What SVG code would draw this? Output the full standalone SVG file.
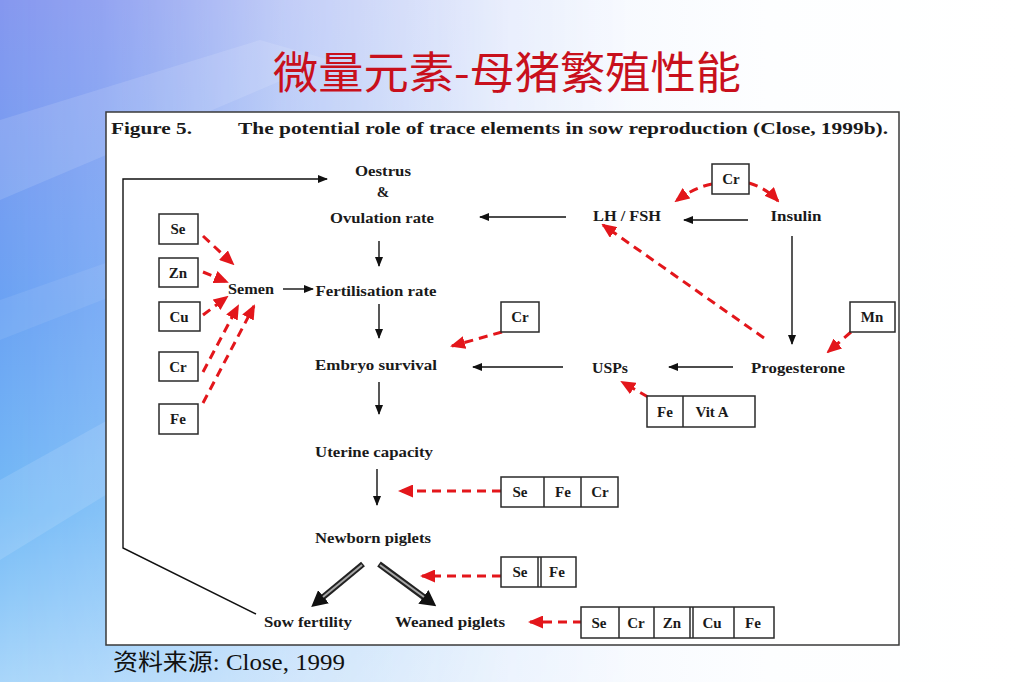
<svg xmlns="http://www.w3.org/2000/svg" width="1023" height="682" viewBox="0 0 1023 682">
<defs>
<linearGradient id="bgH" x1="0" y1="0" x2="1" y2="0">
<stop offset="0" stop-color="#dfe9fb"/>
<stop offset="0.5" stop-color="#f3f7fe"/>
<stop offset="0.75" stop-color="#fdfeff"/>
<stop offset="1" stop-color="#ffffff"/>
</linearGradient>
<linearGradient id="bgV" x1="0" y1="0" x2="0" y2="1">
<stop offset="0" stop-color="#8597ef"/>
<stop offset="0.45" stop-color="#6aa2f3"/>
<stop offset="0.75" stop-color="#74baf6"/>
<stop offset="1" stop-color="#a9d6fa"/>
</linearGradient>
<linearGradient id="fadeH" x1="0" y1="0" x2="1" y2="0">
<stop offset="0" stop-color="#fff" stop-opacity="1"/>
<stop offset="0.1" stop-color="#fff" stop-opacity="0.85"/>
<stop offset="0.28" stop-color="#fff" stop-opacity="0.4"/>
<stop offset="0.5" stop-color="#fff" stop-opacity="0.08"/>
<stop offset="0.62" stop-color="#fff" stop-opacity="0"/>
</linearGradient>
<mask id="leftMask"><rect x="0" y="0" width="1023" height="682" fill="url(#fadeH)"/></mask>
<marker id="ba" markerUnits="userSpaceOnUse" markerWidth="10" markerHeight="8" refX="9" refY="4" orient="auto">
<path d="M0,0 L10,4 L0,8 z" fill="#111"/>
</marker>
<marker id="ra" markerUnits="userSpaceOnUse" markerWidth="15" markerHeight="13" refX="13" refY="6.5" orient="auto">
<path d="M0,0 L15,6.5 L0,13 z" fill="#e3161b"/>
</marker>
<marker id="da" markerUnits="userSpaceOnUse" markerWidth="16" markerHeight="17" refX="2" refY="8.5" orient="auto">
<path d="M0,0 L16,8.5 L0,17 z" fill="#111"/>
</marker>
<style>
.lbl{font-family:'Liberation Serif',Tinos,'Times New Roman','DejaVu Serif',serif;font-weight:700;font-size:15px;fill:#1a1a1a;text-anchor:middle}
.hdr{font-family:'Liberation Serif',Tinos,'Times New Roman','DejaVu Serif',serif;font-weight:700;font-size:17px;fill:#1a1a1a}
.box{fill:#fff;stroke:#2a2a2a;stroke-width:1.5}
.div{stroke:#2a2a2a;stroke-width:1.5}
.blk{fill:none;stroke:#111;stroke-width:1.4;marker-end:url(#ba)}
.red{fill:none;stroke:#e3161b;stroke-width:3;stroke-dasharray:9 6;marker-end:url(#ra)}
.dbo{fill:none;stroke:#222;stroke-width:6;marker-end:url(#da)}
.dbi{fill:none;stroke:#a8a8a8;stroke-width:2}
</style>
</defs>

<g id="background">
<rect x="0" y="0" width="1023" height="682" fill="url(#bgH)"/>
<rect x="0" y="0" width="1023" height="682" fill="url(#bgV)" mask="url(#leftMask)"/>
<polygon points="0,120 260,40 330,60 0,200" fill="#ffffff" opacity="0.12"/>
<polygon points="0,480 180,380 260,400 0,560" fill="#ffffff" opacity="0.12"/>
<polygon points="0,300 200,230 230,250 0,340" fill="#ffffff" opacity="0.08"/>
</g>

<text id="title" x="507" y="89" font-family="'Noto Sans CJK SC','Noto Sans CJK JP',sans-serif" font-size="44" fill="#c8101c" text-anchor="middle" textLength="468" lengthAdjust="spacingAndGlyphs">微量元素-母猪繁殖性能</text>

<rect id="panel" x="106" y="112" width="793" height="533" fill="#ffffff" stroke="#3a3a3a" stroke-width="1.5"/>

<text class="hdr" x="111" y="134" textLength="81" lengthAdjust="spacingAndGlyphs">Figure 5.</text>
<text class="hdr" x="238" y="134" textLength="650" lengthAdjust="spacingAndGlyphs">The potential role of trace elements in sow reproduction (Close, 1999b).</text>

<g id="connectors">
<path class="blk" d="M379,241 L379,266"/>
<path class="blk" d="M379,304 L379,338"/>
<path class="blk" d="M379,382 L379,414"/>
<path class="blk" d="M377,469 L377,505"/>
<path class="blk" d="M283,289 L313,289"/>
<path class="blk" d="M566,217 L480,217"/>
<path class="blk" d="M748,220 L684,220"/>
<path class="blk" d="M792,236 L792,344"/>
<path class="blk" d="M733,367 L669,367"/>
<path class="blk" d="M563,367 L473,367"/>
<path class="blk" d="M256,614 L123,548 L123,179 L327,179"/>
<path class="dbo" d="M363,564 L322,598"/>
<path class="dbi" d="M362,565 L323,597"/>
<path class="dbo" d="M379,564 L425,598"/>
<path class="dbi" d="M380,565 L424,597"/>
<path class="red" d="M203,236 L233,264"/>
<path class="red" d="M203,272 L227,282"/>
<path class="red" d="M203,315 L227,297"/>
<path class="red" d="M203,372 L238,306"/>
<path class="red" d="M203,403 L254,306"/>
<path class="red" d="M712,184 Q695,187 676,201"/>
<path class="red" d="M749,183 Q766,188 778,201"/>
<path class="red" d="M764,338 L603,225"/>
<path class="red" d="M851,332 L828,352"/>
<path class="red" d="M502,332 L452,346"/>
<path class="red" d="M648,397 L622,382"/>
<path class="red" d="M501,491 L400,491"/>
<path class="red" d="M501,576 L422,576"/>
<path class="red" d="M582,622 L530,622"/>
</g>

<g id="node-oestrus">
<text class="lbl" x="383" y="176" textLength="56" lengthAdjust="spacingAndGlyphs">Oestrus</text>
<text class="lbl" x="383" y="197">&amp;</text>
<text class="lbl" x="382" y="223" textLength="104" lengthAdjust="spacingAndGlyphs">Ovulation rate</text>
</g>
<g id="node-semen"><text class="lbl" x="251" y="294" textLength="46" lengthAdjust="spacingAndGlyphs">Semen</text></g>
<g id="node-fertilisation"><text class="lbl" x="376" y="296" textLength="121" lengthAdjust="spacingAndGlyphs">Fertilisation rate</text></g>
<g id="node-embryo"><text class="lbl" x="376" y="370" textLength="122" lengthAdjust="spacingAndGlyphs">Embryo survival</text></g>
<g id="node-uterine"><text class="lbl" x="374" y="457" textLength="118" lengthAdjust="spacingAndGlyphs">Uterine capacity</text></g>
<g id="node-newborn"><text class="lbl" x="373" y="543" textLength="116" lengthAdjust="spacingAndGlyphs">Newborn piglets</text></g>
<g id="node-sow"><text class="lbl" x="308" y="627" textLength="88" lengthAdjust="spacingAndGlyphs">Sow fertility</text></g>
<g id="node-weaned"><text class="lbl" x="450" y="627" textLength="110" lengthAdjust="spacingAndGlyphs">Weaned piglets</text></g>
<g id="node-lhfsh"><text class="lbl" x="627" y="221" textLength="68" lengthAdjust="spacingAndGlyphs">LH / FSH</text></g>
<g id="node-insulin"><text class="lbl" x="796" y="221" textLength="51" lengthAdjust="spacingAndGlyphs">Insulin</text></g>
<g id="node-usps"><text class="lbl" x="610" y="373" textLength="36" lengthAdjust="spacingAndGlyphs">USPs</text></g>
<g id="node-progesterone"><text class="lbl" x="798" y="373" textLength="94" lengthAdjust="spacingAndGlyphs">Progesterone</text></g>

<g id="box-se"><rect class="box" x="159" y="214" width="39" height="30"/><text class="lbl" x="178" y="234">Se</text></g>
<g id="box-zn"><rect class="box" x="159" y="258" width="39" height="29"/><text class="lbl" x="178" y="278">Zn</text></g>
<g id="box-cu"><rect class="box" x="159" y="302" width="41" height="29"/><text class="lbl" x="179" y="322">Cu</text></g>
<g id="box-cr-left"><rect class="box" x="159" y="352" width="39" height="29"/><text class="lbl" x="178" y="372">Cr</text></g>
<g id="box-fe-left"><rect class="box" x="159" y="404" width="39" height="30"/><text class="lbl" x="178" y="424">Fe</text></g>
<g id="box-cr-top"><rect class="box" x="712" y="164" width="37" height="30"/><text class="lbl" x="731" y="184">Cr</text></g>
<g id="box-cr-mid"><rect class="box" x="501" y="302" width="38" height="30"/><text class="lbl" x="520" y="322">Cr</text></g>
<g id="box-mn"><rect class="box" x="850" y="302" width="45" height="30"/><text class="lbl" x="872" y="322">Mn</text></g>
<g id="box-fe-vita">
<rect class="box" x="647" y="396" width="108" height="31"/>
<line class="div" x1="683" y1="396" x2="683" y2="427"/>
<text class="lbl" x="665" y="417">Fe</text>
<text class="lbl" x="712" y="417">Vit A</text>
</g>
<g id="box-se-fe-cr">
<rect class="box" x="501" y="477" width="117" height="30"/>
<line class="div" x1="544" y1="477" x2="544" y2="507"/>
<line class="div" x1="581" y1="477" x2="581" y2="507"/>
<text class="lbl" x="520" y="497">Se</text>
<text class="lbl" x="563" y="497">Fe</text>
<text class="lbl" x="600" y="497">Cr</text>
</g>
<g id="box-se-fe">
<rect class="box" x="501" y="557" width="75" height="30"/>
<line class="div" x1="538" y1="557" x2="538" y2="587"/>
<line class="div" x1="541" y1="557" x2="541" y2="587"/>
<text class="lbl" x="520" y="577">Se</text>
<text class="lbl" x="557" y="577">Fe</text>
</g>
<g id="box-five">
<rect class="box" x="581" y="607" width="193" height="31"/>
<line class="div" x1="619" y1="607" x2="619" y2="638"/>
<line class="div" x1="654" y1="607" x2="654" y2="638"/>
<line class="div" x1="690" y1="607" x2="690" y2="638"/>
<line class="div" x1="693" y1="607" x2="693" y2="638"/>
<line class="div" x1="734" y1="607" x2="734" y2="638"/>
<text class="lbl" x="599" y="628">Se</text>
<text class="lbl" x="636" y="628">Cr</text>
<text class="lbl" x="672" y="628">Zn</text>
<text class="lbl" x="712" y="628">Cu</text>
<text class="lbl" x="753" y="628">Fe</text>
</g>

<text id="source" x="113" y="670" font-family="'Liberation Serif',Tinos,'Times New Roman','Noto Sans CJK SC',serif" font-size="23" fill="#111" textLength="232" lengthAdjust="spacingAndGlyphs">资料来源: Close, 1999</text>
</svg>
